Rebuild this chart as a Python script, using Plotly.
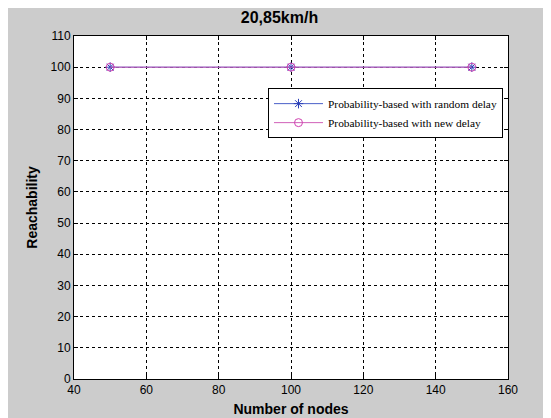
import plotly.graph_objects as go

nodes = [50, 100, 150]
random_delay = [100, 100, 100]
new_delay = [100, 100, 100]
x_ticks = [40, 60, 80, 100, 120, 140, 160]
y_ticks = [0, 10, 20, 30, 40, 50, 60, 70, 80, 90, 100, 110]

fig = go.Figure()
fig.add_trace(go.Scatter(
    x=nodes, y=random_delay, mode="lines+markers",
    name="Probability-based with random delay",
    line=dict(color="#4a5fc8", width=1),
    marker=dict(symbol="asterisk-open", size=8, color="#2a3fb8", line=dict(width=1, color="#2a3fb8")),
))
fig.add_trace(go.Scatter(
    x=nodes, y=new_delay, mode="lines+markers",
    name="Probability-based with new delay",
    line=dict(color="#d060b8", width=1),
    marker=dict(symbol="circle-open", size=8, color="#d040b0", line=dict(width=1, color="#d040b0")),
))

axis_common = dict(
    showline=True, linecolor="black", linewidth=1, mirror="ticks",
    ticks="inside", ticklen=4, tickcolor="black",
    showgrid=True, gridcolor="black", griddash="3px,3px", gridwidth=1,
    zeroline=False, tickfont=dict(family="Arial", size=12, color="black"),
    automargin=False,
)

fig.update_layout(
    width=543, height=410,
    paper_bgcolor="#cccccc", plot_bgcolor="white",
    margin=dict(l=66, r=43, t=28, b=39),
    title=dict(text="<b>20,85km/h</b>", x=0.5, xanchor="center", y=0.99, yanchor="top",
               font=dict(family="Arial", size=16, color="black")),
    xaxis=dict(range=[40, 160], tickvals=x_ticks,
               title=dict(text="<b>Number of nodes</b>", font=dict(family="Arial", size=14, color="black"), standoff=7),
               **axis_common),
    yaxis=dict(range=[0, 110], tickvals=y_ticks,
               title=dict(text="<b>Reachability</b>", font=dict(family="Arial", size=14, color="black"), standoff=9),
               **axis_common),
    legend=dict(x=0.447, y=0.848, xanchor="left", yanchor="top",
                bgcolor="white", bordercolor="black", borderwidth=1,
                font=dict(family="Liberation Serif", size=11.4, color="black"),
                tracegroupgap=0, itemwidth=49),
    showlegend=True,
)

fig.write_html("out.html")
